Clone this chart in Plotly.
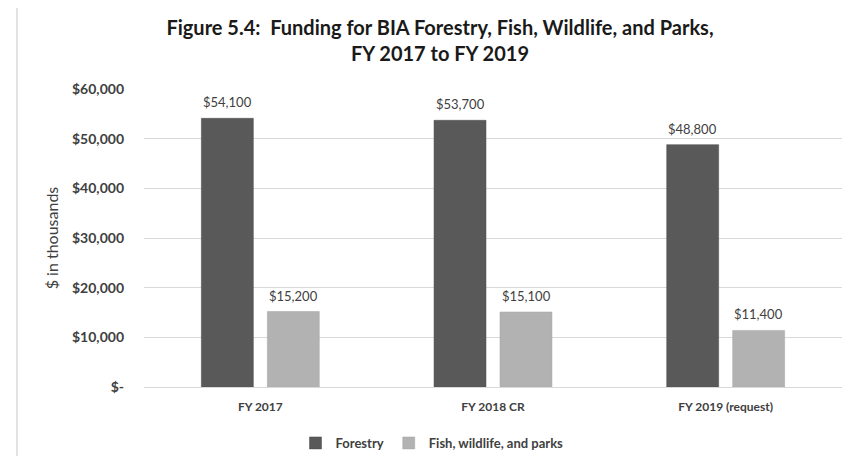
import plotly.graph_objects as go

categories = ["FY 2017", "FY 2018 CR", "FY 2019 (request)"]
forestry = [54100, 53700, 48800]
fish_wildlife_parks = [15200, 15100, 11400]
tick_values = [0, 10000, 20000, 30000, 40000, 50000, 60000]
tick_labels = ["$-", "$10,000", "$20,000", "$30,000", "$40,000", "$50,000", "$60,000"]

FONT = "Lato"
TXT = "#404040"

# figure sized to fit the 862x456 window inside the page's 8px body margin
W, H = 854, 448
PX0, PX1, PY0, PY1 = 136, 834, 81, 379
PW, PH = PX1 - PX0, PY1 - PY0

def fmt(v):
    return "${:,}".format(v)

fig = go.Figure()
fig.add_trace(go.Bar(
    name="<b>Forestry</b>", x=categories, y=forestry,
    marker=dict(color="#595959", line=dict(color="#4d4d4d", width=0.5)),
))
fig.add_trace(go.Bar(
    name="<b>Fish, wildlife, and parks</b>", x=categories, y=fish_wildlife_parks,
    marker=dict(color="#b2b2b2", line=dict(color="#a6a6a6", width=0.5)),
))

annotations = []
for series, shift in ((forestry, -33), (fish_wildlife_parks, 33)):
    for c, v in zip(categories, series):
        annotations.append(dict(
            x=c, y=v, xref="x", yref="y", text=fmt(v), showarrow=False,
            xshift=shift, yshift=16, yanchor="middle", xanchor="center",
            font=dict(family=FONT, size=13, color=TXT),
        ))

fig.update_layout(
    width=W, height=H,
    margin=dict(l=PX0, r=W - PX1, t=PY0, b=H - PY1, autoexpand=False),
    paper_bgcolor="white", plot_bgcolor="white",
    barmode="group", bargap=0.433, bargroupgap=0.212,
    title=dict(
        text="<b>Figure 5.4:  Funding for BIA Forestry, Fish, Wildlife, and Parks,<br>FY 2017 to FY 2019</b>",
        x=432/W, xref="container", xanchor="center",
        y=1 - 27/H, yref="container", yanchor="middle",
        font=dict(family=FONT, size=20, color="#1a1a1a"),
    ),
    font=dict(family=FONT, color=TXT),
    showlegend=True,
    legend=dict(
        orientation="h", x=(424 - PX0)/PW, xanchor="center",
        y=(PY1 - 435)/PH, yanchor="middle",
        font=dict(family=FONT, size=13, color=TXT),
        itemwidth=30, traceorder="normal",
    ),
    annotations=annotations,
    shapes=[
        dict(type="line", xref="paper", yref="paper",
             x0=(9 - PX0)/PW, x1=(9 - PX0)/PW, y0=-0.3, y1=1.3,
             line=dict(color="#d9d9d9", width=1.5)),
        dict(type="line", xref="paper", yref="paper",
             x0=(852 - PX0)/PW, x1=(852 - PX0)/PW, y0=-0.3, y1=1.3,
             line=dict(color="#d9d9d9", width=1.5)),
    ],
)
fig.update_yaxes(
    range=[0, 60000], tickvals=tick_values,
    ticktext=["<b>%s</b>" % t for t in tick_labels],
    showgrid=True, gridcolor="#d9d9d9", gridwidth=1,
    zeroline=False, showline=False,
    tickfont=dict(family=FONT, size=14, color=TXT),
    ticklabelstandoff=19,
    title=dict(text="$ in thousands", font=dict(family=FONT, size=16, color=TXT), standoff=9),
    automargin=False,
)
fig.update_xaxes(
    showline=True, linecolor="#d9d9d9", linewidth=1,
    tickfont=dict(family=FONT, size=12, color=TXT),
    tickprefix="<b>", ticksuffix="</b>",
    ticklabelstandoff=9,
    automargin=False,
)

fig.write_html("out.html")
